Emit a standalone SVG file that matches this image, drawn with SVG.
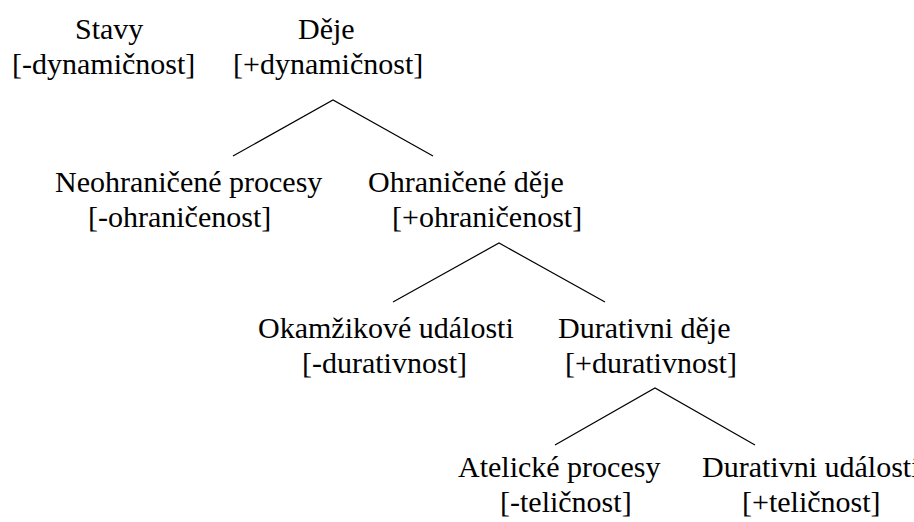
<svg xmlns="http://www.w3.org/2000/svg" width="914" height="522" viewBox="0 0 914 522">
<rect width="914" height="522" fill="#fff"/>
<g id="stavy"><text x="75" y="39" font-family="Times New Roman, Liberation Serif, serif" font-size="30">Stavy</text><text x="12" y="74" font-family="Times New Roman, Liberation Serif, serif" font-size="30">[-dynamičnost]</text></g>
<g id="deje"><text x="298" y="39" font-family="Times New Roman, Liberation Serif, serif" font-size="30">Děje</text><text x="233" y="74" font-family="Times New Roman, Liberation Serif, serif" font-size="30">[+dynamičnost]</text></g>
<g id="neohranicene"><text x="55" y="192" font-family="Times New Roman, Liberation Serif, serif" font-size="30">Neohraničené procesy</text><text x="88" y="227" font-family="Times New Roman, Liberation Serif, serif" font-size="30">[-ohraničenost]</text></g>
<g id="ohranicene"><text x="368" y="192" font-family="Times New Roman, Liberation Serif, serif" font-size="30">Ohraničené děje</text><text x="392" y="227" font-family="Times New Roman, Liberation Serif, serif" font-size="30">[+ohraničenost]</text></g>
<g id="okamzikove"><text x="258" y="338" font-family="Times New Roman, Liberation Serif, serif" font-size="30">Okamžikové události</text><text x="302" y="373" font-family="Times New Roman, Liberation Serif, serif" font-size="30">[-durativnost]</text></g>
<g id="durativni-deje"><text x="558" y="338" font-family="Times New Roman, Liberation Serif, serif" font-size="30">Durativni děje</text><text x="565" y="373" font-family="Times New Roman, Liberation Serif, serif" font-size="30">[+durativnost]</text></g>
<g id="atelicke"><text x="458" y="477" font-family="Times New Roman, Liberation Serif, serif" font-size="30">Atelické procesy</text><text x="500" y="512" font-family="Times New Roman, Liberation Serif, serif" font-size="30">[-teličnost]</text></g>
<g id="durativni-udalosti"><text x="702" y="477" font-family="Times New Roman, Liberation Serif, serif" font-size="30">Durativni události</text><text x="742" y="512" font-family="Times New Roman, Liberation Serif, serif" font-size="30">[+teličnost]</text></g>
<g id="connectors" stroke="#000" stroke-width="1.2" fill="none">
<polyline points="233,156 333,100 433,156"/>
<polyline points="393,302 499,243 605,302"/>
<polyline points="555,445 655,388 755,445"/>
</g>
</svg>
